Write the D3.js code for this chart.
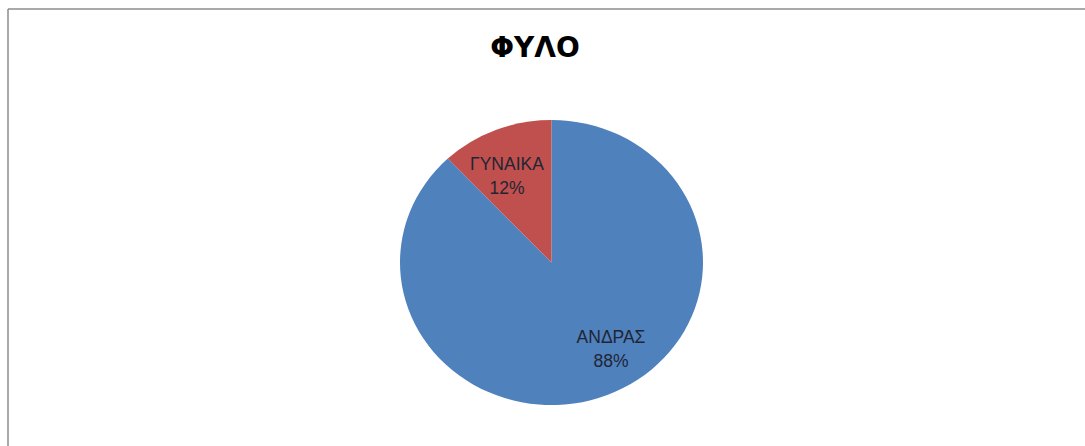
<!DOCTYPE html>
<html><head><meta charset="utf-8">
<script src="https://cdn.jsdelivr.net/npm/d3@7"></script>
<style>html,body{margin:0;padding:0;background:#fff;}svg{display:block;}</style>
</head><body>
<svg id="c" width="1085" height="446"></svg>
<script>
const title = "ΦΥΛΟ";
const categories = ["ΑΝΔΡΑΣ", "ΓΥΝΑΙΚΑ"];
const values = [88, 12];
const colors = ["#4F81BD", "#C0504D"];

const svg = d3.select("#c");
svg.append("line").attr("x1",8).attr("y1",9).attr("x2",1085).attr("y2",9).attr("stroke","#8c8c8c").attr("stroke-width",1.5);
svg.append("line").attr("x1",8).attr("y1",9).attr("x2",8).attr("y2",446).attr("stroke","#8c8c8c").attr("stroke-width",1.5);

svg.append("text").attr("x",535).attr("y",57).attr("text-anchor","middle")
  .attr("font-family","'DejaVu Sans', sans-serif").attr("font-weight","bold")
  .attr("font-size",28).attr("fill","#000").text(title);

const cx = 551.5, cy = 262.5, rx = 151.5, ry = 142.5;
const data = categories.map((c,i)=>({cat:c, val:values[i], color:colors[i]}));
const pie = d3.pie().value(d=>d.val).sort(null);
const arcs = pie(data);
const arc = d3.arc().innerRadius(0).outerRadius(rx);
const g = svg.append("g").attr("transform",`translate(${cx},${cy}) scale(1,${ry/rx})`);
g.selectAll("path").data(arcs).enter().append("path")
  .attr("d",arc).attr("fill",d=>d.data.color);

// label nudges (layout only)
const nudges = [[21.6,-5.6],[-6.6,1.6]];
const labelArc = d3.arc().innerRadius(rx*0.68).outerRadius(rx*0.68);
const total = d3.sum(values);
const lg = svg.append("g").attr("transform",`translate(${cx},${cy})`);
arcs.forEach((a,i)=>{
  const [x0,y0] = labelArc.centroid(a);
  const x = x0 + nudges[i][0];
  const y = y0*ry/rx + nudges[i][1];
  const t = lg.append("text").attr("text-anchor","middle")
    .attr("font-family","'Liberation Sans', Arial, sans-serif").attr("font-size",17.5).attr("fill","#1f2535");
  t.append("tspan").attr("x",x).attr("y",y-4).text(a.data.cat);
  t.append("tspan").attr("x",x).attr("y",y+20).text(Math.round(a.data.val/total*100)+"%");
});
</script>
</body></html>
